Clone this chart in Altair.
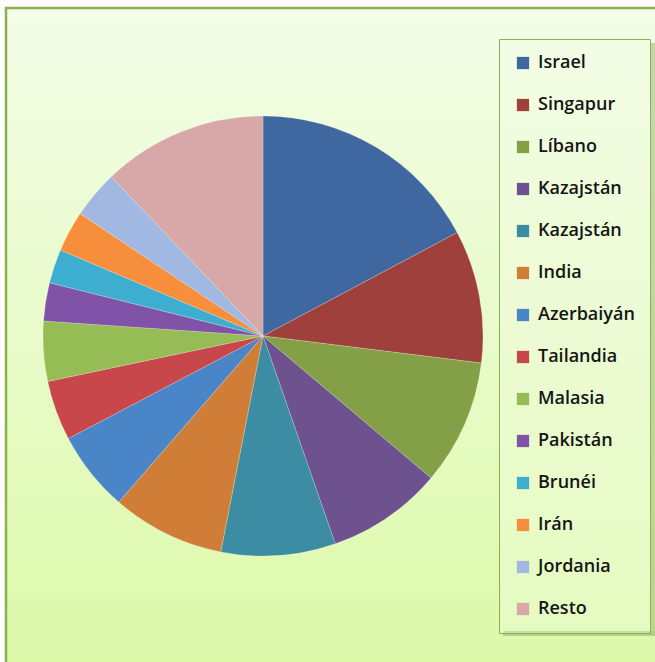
import altair as alt
import pandas as pd

keys = ["Israel", "Singapur", "Líbano", "Kazajstán", "Kazajstán 2", "India",
        "Azerbaiyán", "Tailandia", "Malasia", "Pakistán", "Brunéi", "Irán",
        "Jordania", "Resto"]
values = [17.2, 9.75, 9.2, 8.5, 8.4, 8.3, 5.9, 4.4, 4.4, 2.8, 2.5, 3.0, 3.5, 12.1]
colors = ["#4068A0", "#A0403C", "#84A047", "#6E518F", "#3C8CA4", "#D07E37",
          "#4A85C8", "#C8474B", "#95BC55", "#8052A8", "#3DAECF", "#F78E3B",
          "#A0B8E2", "#D8A7A7"]

df = pd.DataFrame({"pais": keys, "valor": values, "orden": list(range(len(keys)))})
bg = pd.DataFrame({"k": [0]})

W, H = 655, 662

background = alt.Chart(bg).mark_rect(
    fill=alt.Gradient(
        gradient="linear", x1=0, y1=0, x2=0, y2=1,
        stops=[alt.GradientStop(color="#F4FDE8", offset=0),
               alt.GradientStop(color="#DCF9A9", offset=1)],
    ),
    stroke="#8DB04F", strokeWidth=2.5,
).encode(x=alt.value(6), x2=alt.value(W + 10), y=alt.value(8), y2=alt.value(H + 10))

shadow_bottom = alt.Chart(bg).mark_rect(fill="#97B270", opacity=0.6).encode(
    x=alt.value(503), x2=alt.value(655), y=alt.value(631), y2=alt.value(636)
)
shadow_right = alt.Chart(bg).mark_rect(fill="#97B270", opacity=0.5).encode(
    x=alt.value(651), x2=alt.value(655), y=alt.value(43), y2=alt.value(631)
)

pie = alt.Chart(df).mark_arc(
    radius=220, stroke="#ffffff", strokeWidth=0.6, strokeOpacity=0.35
).encode(
    x=alt.value(263),
    y=alt.value(336),
    theta=alt.Theta("valor:Q", stack=True),
    order=alt.Order("orden:Q"),
    color=alt.Color(
        "pais:N",
        sort=keys,
        scale=alt.Scale(domain=keys, range=colors),
        legend=alt.Legend(
            title=None,
            orient="none",
            legendX=499,
            legendY=39,
            padding=15,
            strokeColor="#8DB04F",
            fillColor="rgba(244,252,230,0.35)",
            symbolType="square",
            symbolSize=150,
            symbolStrokeWidth=0,
            labelFontSize=18,
            labelFont="Open Sans",
            labelFontWeight=600,
            labelColor="#151515",
            labelOffset=6,
            labelLimit=300,
            rowPadding=24,
            labelExpr="replace(datum.label, ' 2', '')",
        ),
    ),
)

chart = alt.layer(background, shadow_bottom, shadow_right, pie).properties(
    width=W, height=H, padding=0, autosize=alt.AutoSizeParams(type="none"),
    background="#ffffff",
).configure_view(stroke=None)

chart.save("out.html", embed_options={"renderer": "svg", "actions": False})
